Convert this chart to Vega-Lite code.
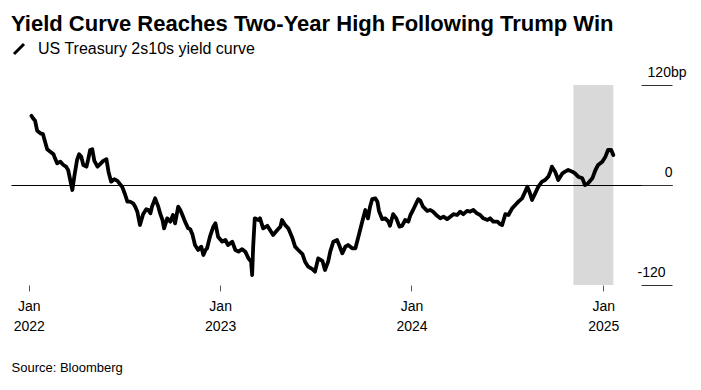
{
  "$schema": "https://vega.github.io/schema/vega-lite/v6.json",
  "width": 661,
  "height": 200,
  "autosize": {"type": "none"},
  "padding": {"left": 11, "top": 85, "right": 29, "bottom": 105},
  "background": "white",
  "config": {"view": {"stroke": null}, "font": "Liberation Sans"},
  "title": {"text": "Yield Curve Reaches Two-Year High Following Trump Win", "anchor": "start", "font": "Liberation Sans", "fontSize": 22, "fontWeight": "bold", "color": "#000", "offset": 5},
  "datasets": {
    "band": [{"date": "2024-11-05", "date_end": "2025-01-20"}],
    "yc": [
      {"date": "2022-01-06", "bp": 83}, {"date": "2022-01-09", "bp": 80}, {"date": "2022-01-13", "bp": 77}, {"date": "2022-01-17", "bp": 65},
      {"date": "2022-01-23", "bp": 62}, {"date": "2022-01-28", "bp": 61}, {"date": "2022-02-01", "bp": 52}, {"date": "2022-02-05", "bp": 43},
      {"date": "2022-02-11", "bp": 40}, {"date": "2022-02-17", "bp": 37}, {"date": "2022-02-20", "bp": 32}, {"date": "2022-02-24", "bp": 26},
      {"date": "2022-03-02", "bp": 28}, {"date": "2022-03-08", "bp": 24}, {"date": "2022-03-13", "bp": 22}, {"date": "2022-03-17", "bp": 18},
      {"date": "2022-03-21", "bp": 6}, {"date": "2022-03-25", "bp": -6}, {"date": "2022-03-29", "bp": 11}, {"date": "2022-04-03", "bp": 30},
      {"date": "2022-04-07", "bp": 37}, {"date": "2022-04-11", "bp": 34}, {"date": "2022-04-15", "bp": 24}, {"date": "2022-04-21", "bp": 22},
      {"date": "2022-04-24", "bp": 30}, {"date": "2022-04-28", "bp": 42}, {"date": "2022-05-02", "bp": 43}, {"date": "2022-05-06", "bp": 29},
      {"date": "2022-05-12", "bp": 22}, {"date": "2022-05-17", "bp": 25}, {"date": "2022-05-23", "bp": 29}, {"date": "2022-05-29", "bp": 31},
      {"date": "2022-06-02", "bp": 16}, {"date": "2022-06-07", "bp": 4}, {"date": "2022-06-13", "bp": 7}, {"date": "2022-06-19", "bp": 5},
      {"date": "2022-06-24", "bp": 1}, {"date": "2022-06-28", "bp": -2}, {"date": "2022-07-04", "bp": -12}, {"date": "2022-07-08", "bp": -20},
      {"date": "2022-07-13", "bp": -20}, {"date": "2022-07-19", "bp": -22}, {"date": "2022-07-23", "bp": -26}, {"date": "2022-07-27", "bp": -32},
      {"date": "2022-08-01", "bp": -48}, {"date": "2022-08-07", "bp": -35}, {"date": "2022-08-13", "bp": -29}, {"date": "2022-08-17", "bp": -30},
      {"date": "2022-08-21", "bp": -34}, {"date": "2022-08-24", "bp": -26}, {"date": "2022-08-30", "bp": -16}, {"date": "2022-09-05", "bp": -26},
      {"date": "2022-09-09", "bp": -35}, {"date": "2022-09-13", "bp": -42}, {"date": "2022-09-16", "bp": -52}, {"date": "2022-09-22", "bp": -40},
      {"date": "2022-09-28", "bp": -44}, {"date": "2022-10-03", "bp": -36}, {"date": "2022-10-07", "bp": -46}, {"date": "2022-10-13", "bp": -26},
      {"date": "2022-10-17", "bp": -30}, {"date": "2022-10-21", "bp": -36}, {"date": "2022-10-26", "bp": -44}, {"date": "2022-11-01", "bp": -52},
      {"date": "2022-11-05", "bp": -53}, {"date": "2022-11-09", "bp": -59}, {"date": "2022-11-14", "bp": -72}, {"date": "2022-11-20", "bp": -78},
      {"date": "2022-11-26", "bp": -74}, {"date": "2022-11-30", "bp": -84}, {"date": "2022-12-04", "bp": -78}, {"date": "2022-12-07", "bp": -76},
      {"date": "2022-12-13", "bp": -61}, {"date": "2022-12-19", "bp": -50}, {"date": "2022-12-23", "bp": -46}, {"date": "2022-12-28", "bp": -62},
      {"date": "2023-01-05", "bp": -68}, {"date": "2023-01-11", "bp": -66}, {"date": "2023-01-16", "bp": -72}, {"date": "2023-01-24", "bp": -68},
      {"date": "2023-01-30", "bp": -78}, {"date": "2023-02-05", "bp": -80}, {"date": "2023-02-12", "bp": -77}, {"date": "2023-02-18", "bp": -80},
      {"date": "2023-02-24", "bp": -88}, {"date": "2023-03-01", "bp": -92}, {"date": "2023-03-03", "bp": -108}, {"date": "2023-03-05", "bp": -74},
      {"date": "2023-03-08", "bp": -40}, {"date": "2023-03-15", "bp": -42}, {"date": "2023-03-18", "bp": -40}, {"date": "2023-03-24", "bp": -52},
      {"date": "2023-04-01", "bp": -49}, {"date": "2023-04-07", "bp": -55}, {"date": "2023-04-12", "bp": -60}, {"date": "2023-04-20", "bp": -54},
      {"date": "2023-04-26", "bp": -50}, {"date": "2023-04-29", "bp": -42}, {"date": "2023-05-05", "bp": -48}, {"date": "2023-05-11", "bp": -52},
      {"date": "2023-05-19", "bp": -64}, {"date": "2023-05-24", "bp": -74}, {"date": "2023-05-30", "bp": -78}, {"date": "2023-06-07", "bp": -83},
      {"date": "2023-06-12", "bp": -92}, {"date": "2023-06-18", "bp": -98}, {"date": "2023-06-26", "bp": -101}, {"date": "2023-07-01", "bp": -104},
      {"date": "2023-07-07", "bp": -88}, {"date": "2023-07-15", "bp": -91}, {"date": "2023-07-20", "bp": -102}, {"date": "2023-07-26", "bp": -92},
      {"date": "2023-07-30", "bp": -80}, {"date": "2023-08-05", "bp": -68}, {"date": "2023-08-12", "bp": -66}, {"date": "2023-08-16", "bp": -72},
      {"date": "2023-08-22", "bp": -82}, {"date": "2023-08-28", "bp": -74}, {"date": "2023-09-02", "bp": -72}, {"date": "2023-09-10", "bp": -76},
      {"date": "2023-09-16", "bp": -76}, {"date": "2023-09-21", "bp": -64}, {"date": "2023-09-29", "bp": -44}, {"date": "2023-10-05", "bp": -30},
      {"date": "2023-10-10", "bp": -40}, {"date": "2023-10-14", "bp": -26}, {"date": "2023-10-18", "bp": -17}, {"date": "2023-10-24", "bp": -16},
      {"date": "2023-10-28", "bp": -20}, {"date": "2023-10-31", "bp": -31}, {"date": "2023-11-06", "bp": -41}, {"date": "2023-11-12", "bp": -40},
      {"date": "2023-11-18", "bp": -44}, {"date": "2023-11-21", "bp": -49}, {"date": "2023-11-27", "bp": -35}, {"date": "2023-12-03", "bp": -40},
      {"date": "2023-12-09", "bp": -50}, {"date": "2023-12-14", "bp": -49}, {"date": "2023-12-20", "bp": -42}, {"date": "2023-12-26", "bp": -44},
      {"date": "2023-12-30", "bp": -36}, {"date": "2024-01-04", "bp": -30}, {"date": "2024-01-10", "bp": -22}, {"date": "2024-01-14", "bp": -17},
      {"date": "2024-01-18", "bp": -19}, {"date": "2024-01-23", "bp": -26}, {"date": "2024-01-31", "bp": -31}, {"date": "2024-02-06", "bp": -30},
      {"date": "2024-02-11", "bp": -32}, {"date": "2024-02-19", "bp": -37}, {"date": "2024-02-25", "bp": -40}, {"date": "2024-03-02", "bp": -38},
      {"date": "2024-03-09", "bp": -41}, {"date": "2024-03-15", "bp": -38}, {"date": "2024-03-21", "bp": -35}, {"date": "2024-03-28", "bp": -36},
      {"date": "2024-04-03", "bp": -32}, {"date": "2024-04-09", "bp": -35}, {"date": "2024-04-16", "bp": -31}, {"date": "2024-04-22", "bp": -32},
      {"date": "2024-04-28", "bp": -30}, {"date": "2024-05-05", "bp": -34}, {"date": "2024-05-11", "bp": -36}, {"date": "2024-05-17", "bp": -40},
      {"date": "2024-05-25", "bp": -42}, {"date": "2024-05-30", "bp": -40}, {"date": "2024-06-05", "bp": -44}, {"date": "2024-06-13", "bp": -44},
      {"date": "2024-06-18", "bp": -47}, {"date": "2024-06-22", "bp": -48}, {"date": "2024-06-28", "bp": -35}, {"date": "2024-07-04", "bp": -36},
      {"date": "2024-07-11", "bp": -28}, {"date": "2024-07-17", "bp": -24}, {"date": "2024-07-23", "bp": -20}, {"date": "2024-07-30", "bp": -16},
      {"date": "2024-08-05", "bp": -8}, {"date": "2024-08-09", "bp": -2}, {"date": "2024-08-13", "bp": -8}, {"date": "2024-08-18", "bp": -18},
      {"date": "2024-08-24", "bp": -10}, {"date": "2024-08-30", "bp": -2}, {"date": "2024-09-06", "bp": 4}, {"date": "2024-09-12", "bp": 6},
      {"date": "2024-09-18", "bp": 10}, {"date": "2024-09-22", "bp": 16}, {"date": "2024-09-25", "bp": 22}, {"date": "2024-10-01", "bp": 16},
      {"date": "2024-10-07", "bp": 6}, {"date": "2024-10-15", "bp": 14}, {"date": "2024-10-20", "bp": 16}, {"date": "2024-10-26", "bp": 18},
      {"date": "2024-11-03", "bp": 16}, {"date": "2024-11-08", "bp": 14}, {"date": "2024-11-14", "bp": 10}, {"date": "2024-11-22", "bp": 8},
      {"date": "2024-11-27", "bp": 0}, {"date": "2024-12-03", "bp": 2}, {"date": "2024-12-11", "bp": 8}, {"date": "2024-12-17", "bp": 18},
      {"date": "2024-12-22", "bp": 24}, {"date": "2024-12-30", "bp": 28}, {"date": "2025-01-05", "bp": 34}, {"date": "2025-01-10", "bp": 42},
      {"date": "2025-01-16", "bp": 42}, {"date": "2025-01-20", "bp": 36}
    ]
  },
  "layer": [
    {
      "data": {"name": "band"},
      "mark": {"type": "rect", "color": "#d9d9d9"},
      "encoding": {
        "x": {"field": "date", "type": "temporal",
          "scale": {"type": "utc", "domain": [{"year": 2021, "month": 11, "date": 28, "utc": true}, {"year": 2025, "month": 5, "date": 12, "utc": true}]},
          "axis": {"values": [{"year": 2022, "month": 1, "date": 1, "utc": true}, {"year": 2023, "month": 1, "date": 1, "utc": true}, {"year": 2024, "month": 1, "date": 1, "utc": true}, {"year": 2025, "month": 1, "date": 1, "utc": true}],
            "labelExpr": "['Jan', utcFormat(datum.value, '%Y')]",
            "title": "Source: Bloomberg", "domain": false, "grid": false, "tickSize": 6, "tickColor": "#555",
            "labelFont": "Liberation Sans", "labelFontSize": 14, "labelColor": "#000", "labelLineHeight": 20, "labelPadding": 8,
            "labelFlush": false, "labelOverlap": false,
            "titleAnchor": "start", "titleAlign": "left", "titleFont": "Liberation Sans", "titleFontSize": 13, "titleFontWeight": "normal", "titleColor": "#000", "titlePadding": 28}},
        "x2": {"field": "date_end"}
      }
    },
    {
      "data": {"name": "yc"},
      "mark": {"type": "line", "strokeWidth": 3.8, "strokeJoin": "round", "strokeCap": "round"},
      "encoding": {
        "x": {"field": "date", "type": "temporal",
          "scale": {"type": "utc", "domain": [{"year": 2021, "month": 11, "date": 28, "utc": true}, {"year": 2025, "month": 5, "date": 12, "utc": true}]},
          "axis": {"values": [{"year": 2022, "month": 1, "date": 1, "utc": true}, {"year": 2023, "month": 1, "date": 1, "utc": true}, {"year": 2024, "month": 1, "date": 1, "utc": true}, {"year": 2025, "month": 1, "date": 1, "utc": true}],
            "labelExpr": "['Jan', utcFormat(datum.value, '%Y')]",
            "title": "Source: Bloomberg", "domain": false, "grid": false, "tickSize": 6, "tickColor": "#555",
            "labelFont": "Liberation Sans", "labelFontSize": 14, "labelColor": "#000", "labelLineHeight": 20, "labelPadding": 8,
            "labelFlush": false, "labelOverlap": false,
            "titleAnchor": "start", "titleAlign": "left", "titleFont": "Liberation Sans", "titleFontSize": 13, "titleFontWeight": "normal", "titleColor": "#000", "titlePadding": 28}},
        "y": {"field": "bp", "type": "quantitative",
          "scale": {"domain": [-120, 120], "nice": false, "zero": false},
          "axis": {"orient": "right", "values": [-120, 0, 120], "title": null, "domain": false,
            "grid": true, "gridColor": {"condition": {"test": "datum.value === 0", "value": "#000"}, "value": "rgba(0,0,0,0)"}, "gridWidth": 1,
            "tickSize": -31, "tickColor": "#333", "tickWidth": 1,
            "labelAlign": "right",
            "labelPadding": {"condition": [{"test": "datum.value === 120", "value": 45}, {"test": "datum.value === -120", "value": 24}], "value": 31},
            "labelBaseline": "alphabetic", "labelOffset": -9,
            "labelFont": "Liberation Sans", "labelFontSize": 14, "labelColor": "#000", "labelFlush": false, "labelOverlap": false,
            "labelExpr": "datum.value == 120 ? '120bp' : datum.value == 0 ? '0' : '-120'", "zindex": 1}},
        "color": {"datum": "US Treasury 2s10s yield curve", "type": "nominal",
          "scale": {"range": ["#000000"]},
          "legend": {"orient": "none", "legendX": 0, "legendY": -44, "title": null,
            "symbolType": "M-1,1L1,-1", "symbolSize": 100, "symbolStrokeWidth": 3, "symbolStrokeColor": "#000",
            "labelFont": "Liberation Sans", "labelFontSize": 16, "labelColor": "#000", "labelOffset": 11, "labelLimit": 0}}
      }
    }
  ]
}
